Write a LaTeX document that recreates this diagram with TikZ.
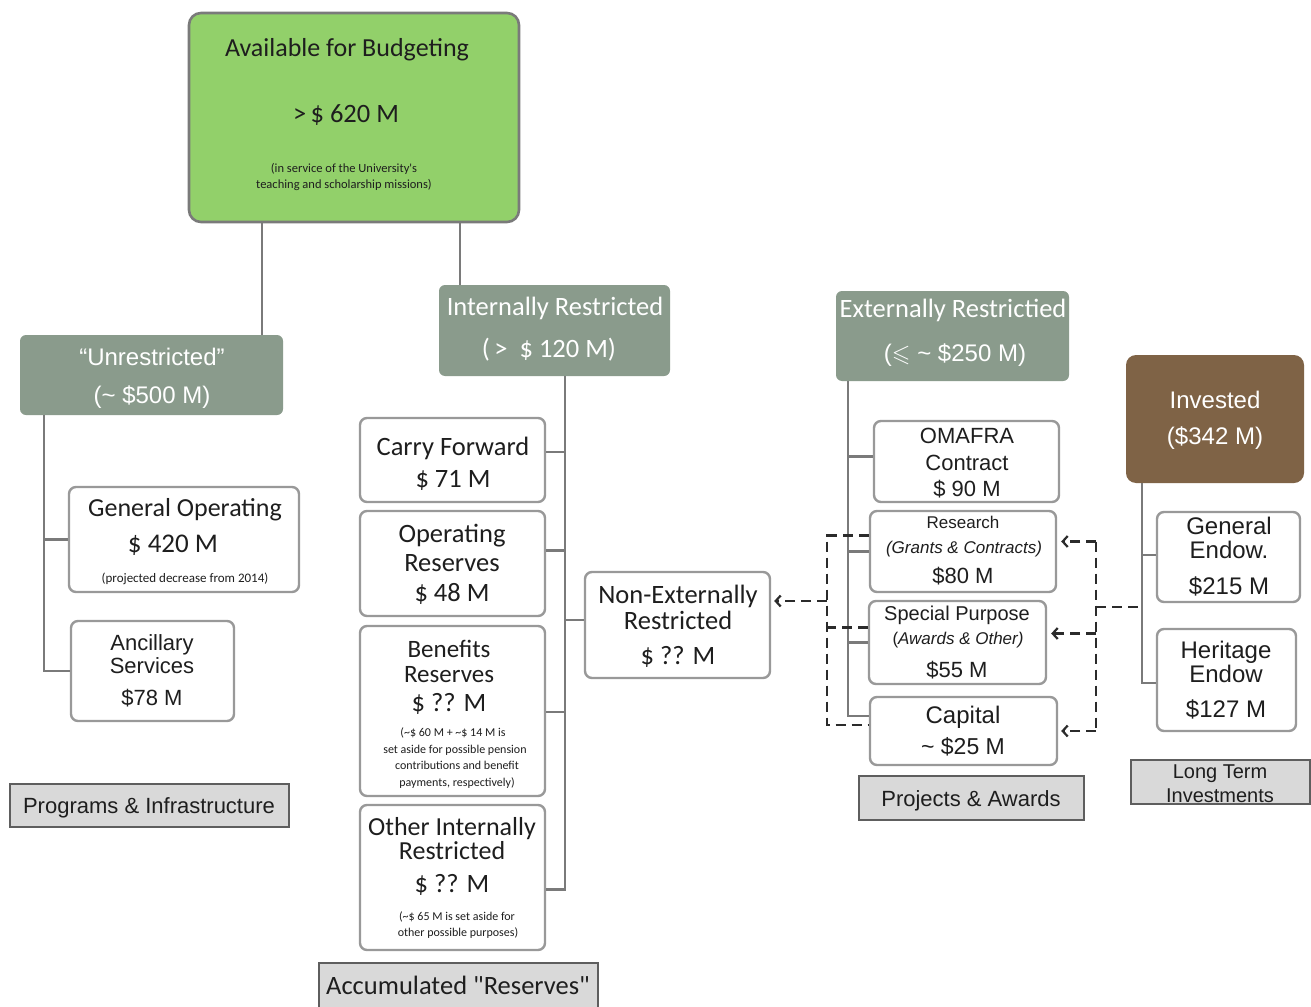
\documentclass[tikz,border=0pt]{standalone}
\usepackage{fontspec}
\usepackage{amssymb}
\setmainfont{Carlito}
\newfontfamily\fcal{Carlito}
\newfontfamily\far{Liberation Sans}
\usetikzlibrary{calc,arrows.meta}
\definecolor{grn}{HTML}{92D06A}
\definecolor{hdr}{HTML}{8A9B8C}
\definecolor{brn}{HTML}{7F6346}
\definecolor{bord}{HTML}{999999}
\definecolor{lblfill}{HTML}{D9D9D9}
\definecolor{lblbord}{HTML}{5E5E5E}
\definecolor{conncol}{HTML}{7A7A7A}
\definecolor{dashcol}{HTML}{2B2B2B}
\definecolor{txt}{HTML}{1E1E1E}
\newcommand{\Ln}[4]{\node[tline,#1] (#2) at (#3) {#4};}
\begin{document}
\begin{tikzpicture}[x=1pt,y=-1pt,
  wbox/.style={draw=bord, line width=2.4pt, rounded corners=7pt, fill=white, inner sep=0pt},
  hbox/.style={fill=#1, rounded corners=6pt, inner sep=0pt},
  lbox/.style={draw=lblbord, fill=lblfill, line width=1.4pt, inner sep=0pt},
  tline/.style={inner sep=0pt, text height=0pt, text depth=0pt, anchor=center, text=txt},
  fc/.style={font=\fcal\fontsize{#1}{#1}\selectfont, yshift={-0.34*#1pt}},
  fa/.style={font=\far\fontsize{#1}{#1}\selectfont, yshift={-0.34*#1pt}},
  cn/.style={draw=conncol, line width=2.8pt},
  dashln/.style={draw=dashcol, line width=2.6pt, dash pattern=on 10pt off 6pt},
  arr/.style={-{Straight Barb[length=5pt,width=11pt,line width=2.2pt]}}
]
\fill[white] (0,0) rectangle (1311,1006);
\useasboundingbox (0,0) rectangle (1311,1006);

% ---------- boxes ----------
\node[draw=conncol, line width=2.6pt, fill=grn, rounded corners=12pt, inner sep=0pt,
      minimum width=330, minimum height=209] (avail) at (354,117.5) {};
\node[hbox=hdr, minimum width=263, minimum height=80] (unres) at (151.5,375) {};
\node[hbox=hdr, minimum width=231, minimum height=91] (intres) at (554.5,330.5) {};
\node[hbox=hdr, minimum width=233, minimum height=90] (extres) at (952.5,336) {};
\node[hbox=brn, rounded corners=10pt, minimum width=178, minimum height=128] (invest) at (1215,419) {};

\node[wbox, minimum width=230, minimum height=105] (genop) at (184,539.5) {};
\node[wbox, minimum width=163, minimum height=100] (ancil) at (152.5,671) {};
\node[lbox, minimum width=279, minimum height=43] (progs) at (149.5,805.5) {};

\node[wbox, minimum width=185, minimum height=84] (carry) at (452.5,460) {};
\node[wbox, minimum width=185, minimum height=105] (opres) at (452.5,563.5) {};
\node[wbox, minimum width=185, minimum height=170] (benef) at (452.5,711) {};
\node[wbox, minimum width=185, minimum height=145] (other) at (452.5,877.5) {};
\node[lbox, minimum width=279, minimum height=50] (accum) at (458.5,988) {};
\node[wbox, minimum width=185, minimum height=106] (nonext) at (677.5,625) {};

\node[wbox, minimum width=185, minimum height=81] (omafra) at (966.5,461.5) {};
\node[wbox, minimum width=186, minimum height=81] (research) at (963,551.5) {};
\node[wbox, minimum width=177, minimum height=83] (special) at (957.5,642.5) {};
\node[wbox, minimum width=187, minimum height=68] (capital) at (963.5,731) {};
\node[lbox, minimum width=225, minimum height=44] (projects) at (971.5,798) {};

\node[wbox, minimum width=143, minimum height=90] (genend) at (1228.5,557) {};
\node[wbox, minimum width=139, minimum height=102] (herit) at (1226.5,680) {};
\node[lbox, minimum width=179, minimum height=44] (ltinv) at (1220.5,782) {};

% ---------- texts ----------
\Ln{fc=26}{av1}{347,48}{Available for Budgeting}
\Ln{fc=26.5}{av2}{346,113}{>\,\$ 620 M}
\Ln{fc=12.5}{av3}{344,168}{(in service of the University's}
\Ln{fc=12.5}{av4}{344,184}{teaching and scholarship missions)}

\Ln{fa=24,text=white}{un1}{152,357}{“Unrestricted”}
\Ln{fa=24,text=white}{un2}{152,395}{(\textasciitilde{} \$500 M)}
\Ln{fc=26.5,text=white}{ir1}{555,306}{Internally Restricted}
\Ln{fc=26.5,text=white}{ir2}{549,348}{(\,>\ \ \$ 120 M)}
\Ln{fc=26.5,text=white}{er1}{953,308}{Externally Restrictied}
\Ln{fa=24,text=white}{er2}{955,353}{($\leqslant$ \textasciitilde{} \$250 M)}
\Ln{fa=24,text=white}{in1}{1215,400}{Invested}
\Ln{fa=24,text=white}{in2}{1215,436}{(\$342 M)}

\Ln{fc=26}{go1}{185,508}{General Operating}
\Ln{fc=27}{go2}{173,543}{\$ 420 M}
\Ln{fc=13}{go3}{185,578}{(projected decrease from 2014)}
\Ln{fa=22}{an1}{152,643}{Ancillary}
\Ln{fa=22}{an2}{152,666}{Services}
\Ln{fa=22}{an3}{152,698}{\$78 M}
\Ln{fa=22}{pr1}{149,806}{Programs \& Infrastructure}

\Ln{fc=26.5}{cf1}{453,446}{Carry Forward}
\Ln{fc=26.5}{cf2}{453,478}{\$ 71 M}
\Ln{fc=26.5}{or1}{452,533}{Operating}
\Ln{fc=26.5}{or2}{452,562}{Reserves}
\Ln{fc=26.5}{or3}{452,592}{\$ 48 M}
\Ln{fc=25}{br1}{449,649}{Benefits}
\Ln{fc=25}{br2}{449,674}{Reserves}
\Ln{fc=26.5}{br3}{449,702}{\$ ?? M}
\Ln{fc=12}{br4}{453,732}{(\textasciitilde\$ 60 M + \textasciitilde\$ 14 M is}
\Ln{fc=12}{br5}{455,749}{set aside for possible pension}
\Ln{fc=12}{br6}{457,765}{contributions and benefit}
\Ln{fc=12}{br7}{457,782}{payments, respectively)}
\Ln{fc=26}{oi1}{452,827}{Other Internally}
\Ln{fc=26}{oi2}{452,851}{Restricted}
\Ln{fc=26.5}{oi3}{452,883}{\$ ?? M}
\Ln{fc=12}{oi4}{457,916}{(\textasciitilde\$ 65 M is set aside for}
\Ln{fc=12}{oi5}{458,932}{other possible purposes)}
\Ln{fc=26.5}{ac1}{458,985}{Accumulated "Reserves"}
\Ln{fc=26.5}{ne1}{678,594}{Non-Externally}
\Ln{fc=26.5}{ne2}{678,620}{Restricted}
\Ln{fc=26.5}{ne3}{678,655}{\$ ?? M}

\Ln{fa=22}{om1}{967,436}{OMAFRA}
\Ln{fa=22}{om2}{967,463}{Contract}
\Ln{fa=22}{om3}{967,489}{\$ 90 M}
\Ln{fa=17}{rs1}{963,523}{Research}
\Ln{fa=17}{rs2}{964,548}{\itshape (Grants \& Contracts)}
\Ln{fa=22}{rs3}{963,576}{\$80 M}
\Ln{fa=20}{sp1}{957,614}{Special Purpose}
\Ln{fa=17}{sp2}{958,639}{(\itshape Awards \& Other)}
\Ln{fa=22}{sp3}{957,670}{\$55 M}
\Ln{fa=24}{ca1}{963,715}{Capital}
\Ln{fa=23}{ca2}{963,747}{\textasciitilde{} \$25 M}
\Ln{fa=22}{pa1}{971,799}{Projects \& Awards}

\Ln{fa=24}{ge1}{1229,526}{General}
\Ln{fa=24}{ge2}{1229,550}{Endow.}
\Ln{fa=24}{ge3}{1229,586}{\$215 M}
\Ln{fa=24}{he1}{1226,650}{Heritage}
\Ln{fa=24}{he2}{1226,674}{Endow}
\Ln{fa=24}{he3}{1226,709}{\$127 M}
\Ln{fa=20}{lt1}{1220,772}{Long Term}
\Ln{fa=20}{lt2}{1220,796}{Investments}

% ---------- helper coordinates ----------
\coordinate (xA1) at (262,0);
\coordinate (xA2) at (460,0);
\coordinate (xU) at (44,0);
\coordinate (xI) at (565,0);
\coordinate (xE) at (848,0);
\coordinate (xV) at (1142,0);
\coordinate (xL) at (827,0);
\coordinate (xR) at (1096,0);

\coordinate (cfE) at ($(carry.east)+(0,-8)$);
\coordinate (opE) at ($(opres.east)+(0,-13)$);
\coordinate (beE) at ($(benef.east)+(0,1)$);
\coordinate (otE) at ($(other.east)+(0,12)$);
\coordinate (nxW) at ($(nonext.west)+(0,-5)$);
\coordinate (omW) at ($(omafra.west)+(0,-5)$);
\coordinate (cpW) at ($(capital.west)+(0,-15)$);
\coordinate (geW) at ($(genend.west)+(0,-2)$);
\coordinate (heW) at ($(herit.west)+(0,3)$);

% ---------- solid connectors ----------
\draw[cn] (avail.south -| xA1) -- (unres.north -| xA1);
\draw[cn] (avail.south -| xA2) -- (intres.north -| xA2);
\draw[cn] (unres.south -| xU) |- (ancil.west);
\draw[cn] (genop.west -| xU) -- (genop.west);
\draw[cn] (intres.south -| xI) |- (otE);
\draw[cn] (cfE) -- (cfE -| xI);
\draw[cn] (opE) -- (opE -| xI);
\draw[cn] (beE) -- (beE -| xI);
\draw[cn] (nxW) -- (nxW -| xI);
\draw[cn] (extres.south -| xE) |- (cpW);
\draw[cn] (omW) -- (omW -| xE);
\draw[cn] (research.west) -- (research.west -| xE);
\draw[cn] (special.west) -- (special.west -| xE);
\draw[cn] (invest.south -| xV) |- (heW);
\draw[cn] (geW) -- (geW -| xV);

% ---------- dashed connectors ----------
\coordinate (rL) at ($(research.west)+(0,-16)$);
\coordinate (sL) at ($(special.west)+(0,-15)$);
\coordinate (cL) at ($(capital.west)+(0,-6)$);
\coordinate (nE) at ($(nonext.east)+(0,-24)$);
\draw[dashln] (rL) -| (cL -| xL) -- (cL);
\draw[dashln] (sL) -- (sL -| xL);
\draw[dashln,arr] (nE -| xL) -- ($(nE)+(3,0)$);

\coordinate (rR) at ($(research.east)+(0,-10)$);
\coordinate (sR) at ($(special.east)+(0,-9)$);
\coordinate (cR) at (capital.east);
\coordinate (vR) at (1096,607);
\draw[dashln] (rR -| xR) -- (cR -| xR);
\draw[dashln,arr] (rR -| xR) -- ($(rR)+(4,0)$);
\draw[dashln,arr] (sR -| xR) -- ($(sR)+(4,0)$);
\draw[dashln,arr] (cR -| xR) -- ($(cR)+(3,0)$);
\draw[dashln] (vR) -- (vR -| xV);
\end{tikzpicture}
\end{document}
